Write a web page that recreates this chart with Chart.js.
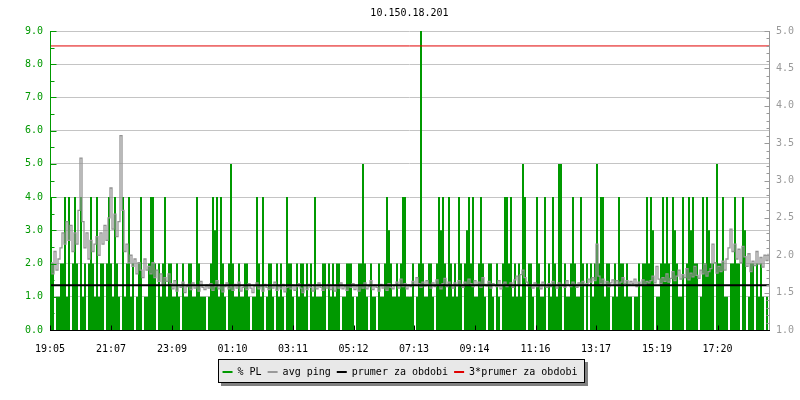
<!DOCTYPE html>
<html>
<head>
<meta charset="utf-8">
<title>10.150.18.201</title>
<script src="https://cdn.jsdelivr.net/npm/chart.js@4.4.1/dist/chart.umd.min.js"></script>
<style>
  html, body { margin: 0; padding: 0; background: #fff; }
  #wrap { width: 800px; height: 400px; }
</style>
</head>
<body>
<div id="wrap"><canvas id="pingChart" width="800" height="400"></canvas></div>
<script>
const hostName = '10.150.18.201';
const timeLabels = ['19:05', '21:07', '23:09', '01:10', '03:11', '05:12', '07:13', '09:14', '11:16', '13:17', '15:19', '17:20'];
const seriesNames = ['% PL', 'avg ping', 'prumer za obdobi', '3*prumer za obdobi'];
const seriesColors = ['#009900', '#999999', '#000000', '#e00000'];
const sampleMinutes = 4;
const spanMinutes = 1438;
const pingMean = 1.60;

// packet loss, one value per 4 minutes
const plLoss = [
    4,2,0,1,1,2,2,4,1,4,0,2,4,2,0,4,1,2,0,2,4,2,1,4,1,2,2,0,2,4,
    2,1,4,2,1,0,4,1,2,4,1,2,0,1,2,4,0,1,1,2,4,4,2,0,2,1,2,4,1,2,
    2,1,1,2,1,0,2,1,1,2,2,1,1,4,2,1,1,1,0,1,2,4,3,4,1,4,2,1,0,2,
    5,2,1,1,2,1,1,2,2,1,0,1,1,4,2,1,4,0,1,2,2,1,0,2,1,2,1,0,4,2,
    2,1,0,2,1,2,2,1,2,0,2,1,4,1,1,1,2,2,0,2,1,2,1,2,2,0,1,1,2,2,
    2,1,0,1,2,2,5,2,1,0,2,1,1,0,2,1,1,2,4,3,2,1,1,2,1,2,4,4,1,1,
    1,2,0,1,2,10,2,1,1,2,2,1,0,2,4,3,4,2,1,4,2,1,2,1,4,2,0,2,3,4,
    2,4,1,1,2,4,2,1,0,2,2,1,0,2,1,0,2,4,4,2,4,1,2,1,2,1,5,4,0,2,
    2,1,0,4,2,1,1,4,0,2,1,4,2,1,5,5,0,2,1,1,2,4,2,1,1,4,2,0,2,0,
    2,1,2,5,2,4,4,1,2,2,0,1,2,1,4,2,2,1,2,1,1,0,1,1,2,0,2,2,4,2,
    4,3,0,1,1,2,4,2,4,2,0,4,3,2,1,1,4,0,2,4,3,4,2,2,0,1,4,2,4,3,
    2,2,0,5,2,2,4,1,1,0,2,2,4,2,2,0,4,3,0,1,2,2,0,2,1,2,1,0,1,1
];

// average ping, same sampling
const avgPing = [
    1.90,1.75,2.05,1.80,1.95,2.10,2.30,2.15,2.45,2.20,2.40,2.05,2.30,2.15,2.60,3.30,2.45,2.10,2.30,1.95,2.20,2.05,2.15,2.25,2.00,2.30,2.15,2.40,2.20,2.50,
    2.90,2.35,2.55,2.25,2.45,3.60,2.60,2.05,2.15,1.90,2.00,1.85,1.95,1.75,1.90,1.80,1.70,1.95,1.80,1.85,1.75,1.90,1.70,1.80,1.65,1.75,1.60,1.70,1.65,1.75,
    1.62,1.55,1.66,1.52,1.60,1.57,1.64,1.50,1.58,1.61,1.54,1.63,1.56,1.59,1.52,1.65,1.57,1.54,1.60,1.56,1.62,1.53,1.58,1.66,1.55,1.60,1.51,1.58,1.63,1.55,
    1.58,1.53,1.61,1.56,1.64,1.52,1.57,1.60,1.54,1.62,1.56,1.50,1.59,1.63,1.55,1.58,1.52,1.61,1.57,1.54,1.60,1.56,1.64,1.53,1.58,1.55,1.61,1.51,1.57,1.59,
    1.55,1.60,1.53,1.58,1.62,1.56,1.50,1.59,1.54,1.61,1.57,1.52,1.60,1.55,1.63,1.57,1.53,1.59,1.56,1.61,1.54,1.58,1.52,1.60,1.56,1.63,1.55,1.58,1.53,1.60,
    1.57,1.62,1.54,1.59,1.52,1.60,1.56,1.63,1.55,1.58,1.66,1.54,1.60,1.57,1.52,1.61,1.56,1.59,1.53,1.62,1.57,1.55,1.60,1.64,1.56,1.68,1.58,1.62,1.55,1.60,
    1.58,1.65,1.60,1.70,1.62,1.57,1.64,1.59,1.66,1.61,1.56,1.63,1.58,1.67,1.60,1.55,1.62,1.69,1.58,1.64,1.60,1.56,1.63,1.59,1.66,1.61,1.57,1.64,1.60,1.68,
    1.62,1.58,1.66,1.60,1.64,1.57,1.70,1.61,1.59,1.65,1.56,1.62,1.60,1.58,1.66,1.55,1.61,1.64,1.58,1.60,1.63,1.57,1.67,1.72,1.60,1.74,1.80,1.70,1.64,1.59,
    1.60,1.56,1.63,1.58,1.61,1.55,1.64,1.59,1.57,1.62,1.58,1.65,1.60,1.56,1.63,1.59,1.61,1.57,1.66,1.60,1.58,1.64,1.61,1.57,1.63,1.59,1.65,1.60,1.62,1.68,
    1.64,1.70,1.66,2.15,1.72,1.62,1.68,1.60,1.65,1.58,1.63,1.67,1.61,1.66,1.59,1.64,1.70,1.62,1.66,1.60,1.65,1.62,1.68,1.58,1.64,1.60,1.67,1.61,1.65,1.63,
    1.66,1.72,1.63,1.85,1.68,1.62,1.70,1.65,1.75,1.64,1.69,1.78,1.66,1.72,1.80,1.68,1.74,1.70,1.82,1.67,1.76,1.71,1.85,1.73,1.69,1.80,1.75,1.88,1.72,1.78,
    1.82,2.15,1.90,1.76,1.85,1.78,1.92,1.80,1.95,2.10,2.35,2.05,2.15,1.95,2.08,1.90,2.12,1.98,1.85,2.02,1.78,1.92,1.86,2.05,1.88,1.97,1.84,2.00,1.93,2.02
];

function minutesFromStart(label) {
    const [h, m] = label.split(':').map(Number);
    const [h0, m0] = timeLabels[0].split(':').map(Number);
    let d = (h * 60 + m) - (h0 * 60 + m0);
    if (d < 0) d += 1440;
    return d;
}

const tickMinutes = timeLabels.map(minutesFromStart);
const plPoints = plLoss.map((v, i) => ({ x: i * sampleMinutes, y: v }));
const pingPoints = avgPing.map((v, i) => ({ x: i * sampleMinutes, y: v }));
const meanLine = [{ x: 0, y: pingMean }, { x: spanMinutes, y: pingMean }];
const tripleMeanLine = [{ x: 0, y: pingMean * 3 }, { x: spanMinutes, y: pingMean * 3 }];

Chart.defaults.font.family = "'DejaVu Sans Mono', monospace";
Chart.defaults.font.size = 10;
Chart.defaults.color = '#000';

// inward tick marks and axis lines, like the rrd graph
const axisFrame = {
    id: 'axisFrame',
    afterDraw(chart) {
        const { ctx, chartArea: a, scales } = chart;
        ctx.save();
        ctx.lineWidth = 1;

        const lx = a.left + 0.5;
        ctx.strokeStyle = seriesColors[0];
        ctx.beginPath();
        ctx.moveTo(lx, a.top);
        ctx.lineTo(lx, a.bottom);
        for (let k = 0; k <= 18; k++) {
            const py = Math.round(scales.y.getPixelForValue(k / 2)) + 0.5;
            ctx.moveTo(lx, py);
            ctx.lineTo(lx + (k % 2 === 0 ? 6 : 4), py);
        }
        ctx.stroke();

        const rx = a.right + 0.5;
        ctx.strokeStyle = '#999999';
        ctx.beginPath();
        ctx.moveTo(rx, a.top);
        ctx.lineTo(rx, a.bottom);
        for (let k = 10; k <= 50; k++) {
            const py = Math.round(scales.y1.getPixelForValue(k / 10)) + 0.5;
            ctx.moveTo(rx, py);
            ctx.lineTo(rx - (k % 5 === 0 ? 5 : 3), py);
        }
        ctx.stroke();

        const by = a.bottom + 0.5;
        ctx.strokeStyle = '#000';
        ctx.beginPath();
        ctx.moveTo(a.left, by);
        ctx.lineTo(a.right + 1, by);
        tickMinutes.forEach(m => {
            const px = Math.round(scales.x.getPixelForValue(m)) + 0.5;
            ctx.moveTo(px, by);
            ctx.lineTo(px, by - 5);
        });
        ctx.stroke();
        ctx.restore();
    }
};

// grey box with shadow behind the legend
const legendFrame = {
    id: 'legendFrame',
    beforeDraw(chart) {
        const boxes = chart.legend && chart.legend.legendHitBoxes;
        if (!boxes || !boxes.length) return;
        const first = boxes[0];
        const last = boxes[boxes.length - 1];
        const x0 = Math.round(first.left) - 5;
        const y0 = Math.round(first.top) - 8;
        const w = Math.round(last.left + last.width) + 8 - x0;
        const h = 24;
        const ctx = chart.ctx;
        ctx.save();
        ctx.fillStyle = '#808080';
        ctx.fillRect(x0 + 3, y0 + 3, w, h);
        ctx.fillStyle = '#e8e8e8';
        ctx.fillRect(x0, y0, w, h);
        ctx.strokeStyle = '#000';
        ctx.lineWidth = 1;
        ctx.strokeRect(x0 + 0.5, y0 + 0.5, w - 1, h - 1);
        ctx.restore();
    }
};

new Chart(document.getElementById('pingChart'), {
    type: 'line',
    data: {
        datasets: [
            {
                label: seriesNames[0],
                data: plPoints,
                yAxisID: 'y',
                stepped: true,
                fill: 'origin',
                backgroundColor: seriesColors[0],
                borderColor: 'rgba(0,0,0,0)',
                borderWidth: 0,
                pointRadius: 0,
                order: 4
            },
            {
                label: seriesNames[1],
                data: pingPoints,
                yAxisID: 'y1',
                stepped: true,
                fill: false,
                borderColor: '#949494',
                borderWidth: 1.3,
                pointRadius: 0,
                order: 3
            },
            {
                label: seriesNames[2],
                data: meanLine,
                yAxisID: 'y1',
                fill: false,
                borderColor: seriesColors[2],
                borderWidth: 2,
                pointRadius: 0,
                order: 2
            },
            {
                label: seriesNames[3],
                data: tripleMeanLine,
                yAxisID: 'y1',
                fill: false,
                borderColor: seriesColors[3],
                borderWidth: 1,
                pointRadius: 0,
                order: 1
            }
        ]
    },
    options: {
        responsive: false,
        animation: false,
        events: [],
        layout: { padding: { left: 0, right: 0, top: 0, bottom: 13 } },
        scales: {
            x: {
                type: 'linear',
                min: 0,
                max: spanMinutes,
                grid: { display: false },
                border: { display: false },
                afterBuildTicks: s => { s.ticks = tickMinutes.map(v => ({ value: v })); },
                afterFit: s => { s.height = 31; },
                ticks: {
                    autoSkip: false,
                    maxRotation: 0,
                    padding: 5,
                    color: '#000',
                    callback: (value, index) => timeLabels[index]
                }
            },
            y: {
                position: 'left',
                min: 0,
                max: 9,
                z: 1,
                grid: { color: '#c4c4c4', drawTicks: false },
                border: { display: false },
                afterFit: s => { s.width = 50; },
                ticks: {
                    stepSize: 1,
                    padding: 7,
                    color: seriesColors[0],
                    callback: v => v.toFixed(1)
                }
            },
            y1: {
                position: 'right',
                min: 1,
                max: 5,
                grid: { display: false, drawTicks: false },
                border: { display: false },
                afterFit: s => { s.width = 31; },
                ticks: {
                    stepSize: 0.5,
                    padding: 7,
                    color: '#999999',
                    callback: v => v.toFixed(1)
                }
            }
        },
        plugins: {
            title: {
                display: true,
                text: hostName,
                fullSize: false,
                color: '#000',
                font: { size: 10, weight: 'normal' },
                padding: { top: 7, bottom: 12 }
            },
            legend: {
                position: 'bottom',
                labels: {
                    boxWidth: 10,
                    boxHeight: 2,
                    padding: 6,
                    color: '#000',
                    generateLabels: () => seriesNames.map((name, i) => ({
                        text: name,
                        fillStyle: seriesColors[i],
                        strokeStyle: seriesColors[i],
                        lineWidth: 0,
                        hidden: false,
                        datasetIndex: i
                    }))
                }
            },
            tooltip: { enabled: false }
        }
    },
    plugins: [axisFrame, legendFrame]
});
</script>
</body>
</html>
